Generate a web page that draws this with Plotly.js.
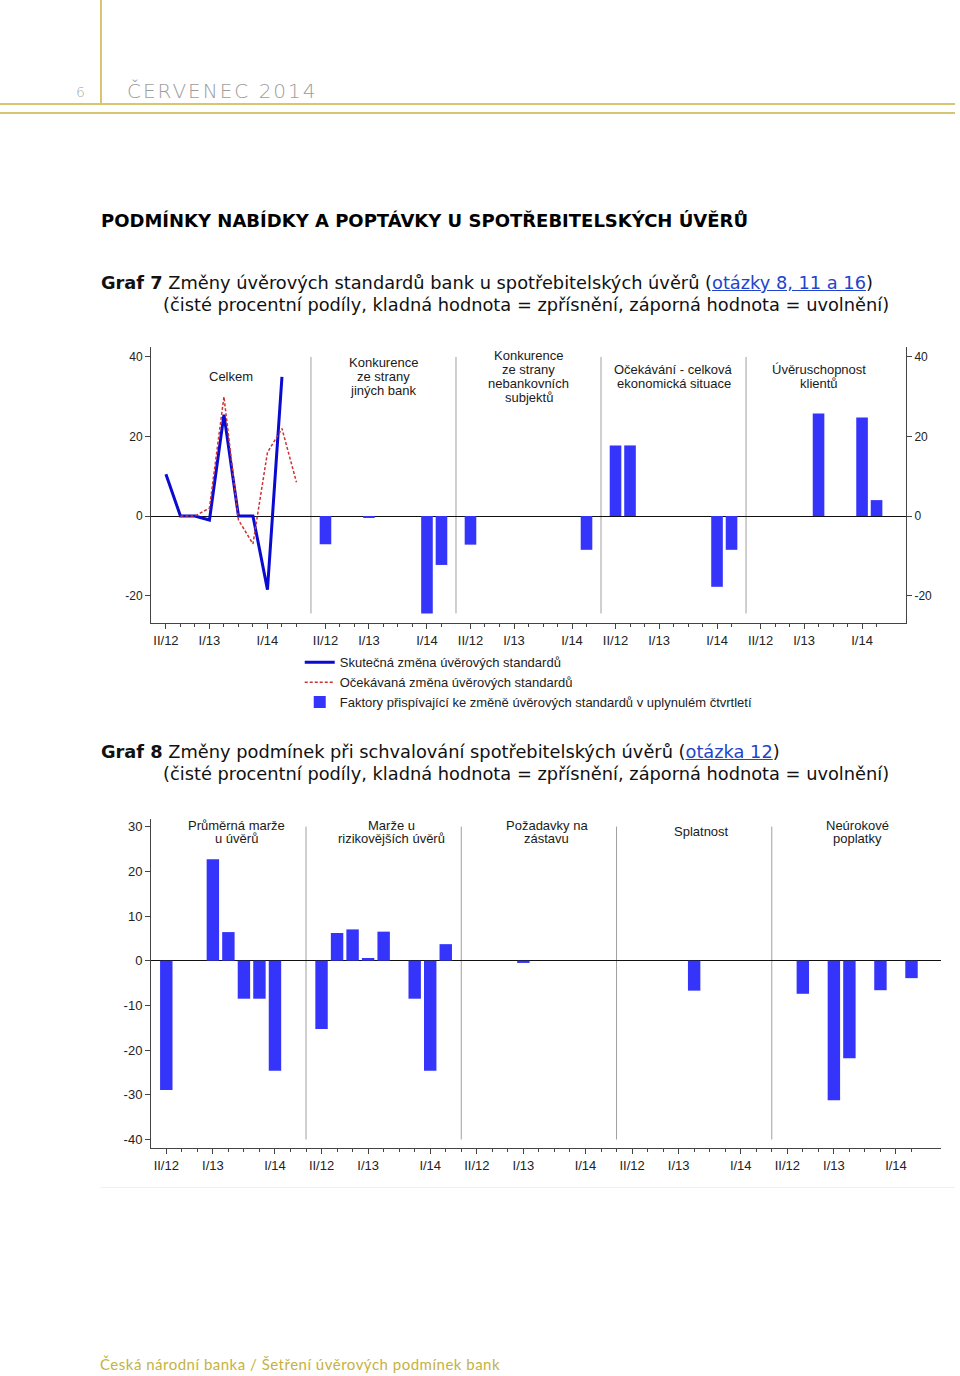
<!DOCTYPE html>
<html>
<head>
<meta charset="utf-8">
<script src="https://cdn.plot.ly/plotly-3.0.1.min.js"></script>
<style>
  html, body { margin:0; padding:0; background:#fff; }
  body { width:960px; height:1376px; position:relative; overflow:hidden; }
  .t { position:absolute; white-space:nowrap; }
  .body16 { font-family:"DejaVu Sans", Verdana, sans-serif; font-size:17.8px; line-height:22px; color:#111; }
  .lnk { color:#2244cc; text-decoration:underline; }
  .gold { position:absolute; background:#d8c572; }
  #g7 { position:absolute; left:0; top:330px; width:960px; height:390px; }
  #g8 { position:absolute; left:0; top:800px; width:960px; height:390px; }
</style>
</head>
<body>
<!-- page header -->
<div class="gold" style="left:100px; top:0; width:1.5px; height:104px;"></div>
<div class="gold" style="left:0; top:103px; width:955px; height:1.5px;"></div>
<div class="gold" style="left:0; top:112px; width:955px; height:1.5px;"></div>
<div class="t" style="left:76px; top:84px; font-family:'DejaVu Sans',sans-serif; font-weight:200; font-size:14px; line-height:17px; color:#aaa;">6</div>
<div class="t" style="left:127px; top:79px; font-family:'DejaVu Sans',sans-serif; font-weight:200; font-size:20px; line-height:24px; letter-spacing:2px; color:#9d9d9d;">ČERVENEC 2014</div>

<div class="t" style="left:101px; top:210px; font-family:'DejaVu Sans',Verdana,sans-serif; font-weight:bold; font-size:18px; line-height:22px; color:#000;">PODMÍNKY NABÍDKY A POPTÁVKY U SPOTŘEBITELSKÝCH ÚVĚRŮ</div>

<div class="t body16" style="left:101px; top:272px;"><b>Graf 7</b> Změny úvěrových standardů bank u spotřebitelských úvěrů (<span class="lnk">otázky 8, 11 a 16</span>)</div>
<div class="t body16" style="left:163px; top:294px;">(čisté procentní podíly, kladná hodnota = zpřísnění, záporná hodnota = uvolnění)</div>

<div id="g7"></div>

<div class="t body16" style="left:101px; top:741px;"><b>Graf 8</b> Změny podmínek při schvalování spotřebitelských úvěrů (<span class="lnk">otázka 12</span>)</div>
<div class="t body16" style="left:163px; top:763px;">(čisté procentní podíly, kladná hodnota = zpřísnění, záporná hodnota = uvolnění)</div>

<div id="g8"></div>
<div style="position:absolute; left:100px; top:1187px; width:855px; height:1px; background:#f0f0f0;"></div>

<div class="t" style="left:100px; top:1355px; font-family:Lato,'Noto Sans',sans-serif; font-size:15px; line-height:18px; letter-spacing:0.5px; color:#c5b23e;">Česká národní banka / Šetření úvěrových podmínek bank</div>

<script>
// ---------- DATA ----------
const quarters = ["II/12","III/12","IV/12","I/13","II/13","III/13","IV/13","I/14","II/14","III/14"];
const labelledQuarters = ["II/12","I/13","I/14"];

// Graf 7 – panel 1 (lines)
const g7Actual   = [10.5, 0, 0, -1, 25.5, 0, 0, -18.5, 35, null];
const g7Expected = [null, 0, 0, 2, 30, -1, -7, 16, 22, 8.5];
// Graf 7 – factor panels (II/12 .. II/14)
const g7KonkBanky     = [-7.1, null, null, -0.5, null, null, null, -24.5, -12.3];
const g7KonkNebank    = [-7.2, null, null, null, null, null, null, null, -8.5];
const g7Ocekavani     = [17.75, 17.75, null, null, null, null, null, -17.8, -8.5];
const g7Uverusch      = [null, null, null, null, 25.75, null, null, 24.75, 4];
const g7Titles = [["Celkem"], ["Konkurence","ze strany","jiných bank"],
  ["Konkurence","ze strany","nebankovních","subjektů"],
  ["Očekávání - celková","ekonomická situace"], ["Úvěruschopnost","klientů"]];
const g7Legend = ["Skutečná změna úvěrových standardů","Očekávaná změna úvěrových standardů",
  "Faktory přispívající ke změně úvěrových standardů v uplynulém čtvrtletí"];
const g7YTicks = [-20, 0, 20, 40];
const g7YLabels = ["-20", "0", "20", "40"];

// Graf 8 – panels (II/12 .. II/14)
const g8Marze      = [-28.9, null, null, 22.7, 6.4, -8.5, -8.5, -24.6, null];
const g8MarzeRiz   = [-15.3, 6.2, 7.0, 0.6, 6.5, null, -8.5, -24.6, 3.7];
const g8Zastava    = [null, null, null, -0.5, null, null, null, null, null];
const g8Splatnost  = [null, null, null, null, -6.7, null, null, null, null];
const g8Poplatky   = [null, -7.4, null, -31.2, -21.8, null, -6.6, null, -3.9];
const g8Titles = [["Průměrná marže","u úvěrů"], ["Marže u","rizikovějších úvěrů"],
  ["Požadavky na","zástavu"], ["Splatnost"], ["Neúrokové","poplatky"]];
const g8YTicks = [-40, -30, -20, -10, 0, 10, 20, 30];
const g8YLabels = ["-40", "-30", "-20", "-10", "0", "10", "20", "30"];

// ---------- LAYOUT CONSTANTS ----------
const FONT = "Liberation Sans, Arial, sans-serif";
const BAR = "#3434fb", LINEB = "#0a0ad0", LINER = "#cc3333", AX = "#444";
const g7Start = [0, 11, 21, 31, 41], g7Sep = [10, 20, 30, 40], g7TitleX = [4.5, 15, 25, 35, 45];
const g8Start = [0, 10, 20, 30, 40], g8Sep = [9, 19, 29, 39], g8TitleX = [4.5, 14.5, 24.5, 34.5, 44.5];

function barsFrom(panels, starts) {
  const x = [], y = [];
  panels.forEach((vals, p) => vals.forEach((v, i) => { if (v !== null) { x.push(starts[p] + i); y.push(v); } }));
  return {x, y};
}
function majorTicks(starts) {
  const v = [], t = [];
  starts.forEach(s => labelledQuarters.forEach(q => { v.push(s + quarters.indexOf(q)); t.push(q); }));
  return {v, t};
}
function titleAnn(titles, xs, yv, lh) {
  const a = [];
  titles.forEach((lines, p) => lines.forEach((txt, j) => a.push({
    x: xs[p], y: yv, xref: 'x', yref: 'y', text: txt, showarrow: false,
    xanchor: 'center', yanchor: 'middle', yshift: ((lines.length - 1) / 2 - j) * lh,
    font: {family: FONT, size: 13, color: '#1a1a1a'}
  })));
  return a;
}
function sepShapes(seps, y0, y1) {
  return seps.map(s => ({type: 'line', xref: 'x', yref: 'y', x0: s, x1: s, y0: y0, y1: y1,
    line: {color: '#a0a0a0', width: 1}, layer: 'below'}));
}

// ---------- GRAF 7 ----------
const g7x = quarters.map((q, i) => g7Start[0] + i);
const g7bars = barsFrom([g7KonkBanky, g7KonkNebank, g7Ocekavani, g7Uverusch], g7Start.slice(1));
const g7maj = majorTicks(g7Start);
const g7minor = [];
g7Start.forEach((s, p) => { const n = p === 0 ? 10 : 9; for (let i = 0; i < n; i++) g7minor.push(s + i); });

const yr7 = [-26.9, 42.5];
const yax7 = {range: yr7, tickmode: 'array', tickvals: g7YTicks, ticktext: g7YLabels, ticks: 'outside', ticklen: 5,
  tickcolor: AX, showline: true, linecolor: AX, linewidth: 1, showgrid: false,
  tickfont: {family: FONT, size: 12, color: '#222'}, fixedrange: true};

const traces7 = [
  {x: g7x, y: g7Actual, type: 'scatter', mode: 'lines', name: g7Legend[0],
   line: {color: LINEB, width: 3}, xaxis: 'x', yaxis: 'y', hoverinfo: 'skip'},
  {x: g7x, y: g7Expected, type: 'scatter', mode: 'lines', name: g7Legend[1],
   line: {color: LINER, width: 1.5, dash: '3px,2px'}, xaxis: 'x', yaxis: 'y', hoverinfo: 'skip'},
  {x: g7bars.x, y: g7bars.y, type: 'bar', name: g7Legend[2], width: 0.8,
   marker: {color: BAR, line: {width: 0}}, xaxis: 'x', yaxis: 'y2', hoverinfo: 'skip'}
];
const layout7 = {
  width: 960, height: 390, margin: {l: 151, r: 54, t: 17, b: 97, autoexpand: false},
  paper_bgcolor: 'rgba(0,0,0,0)', plot_bgcolor: 'rgba(0,0,0,0)',
  font: {family: FONT, size: 13, color: '#222'},
  showlegend: true,
  legend: {x: 0.197, y: -0.088, xanchor: 'left', yanchor: 'top', bgcolor: 'rgba(0,0,0,0)',
    font: {family: FONT, size: 13, color: '#222'}, tracegroupgap: 0},
  xaxis: {range: [-1.03, 51.03], tickmode: 'array', tickvals: g7maj.v, ticktext: g7maj.t,
    ticks: 'outside', ticklen: 5, tickcolor: AX, showline: true, linecolor: AX, linewidth: 1,
    showgrid: false, zeroline: false, fixedrange: true,
    tickfont: {family: FONT, size: 13, color: '#222'},
    minor: {tickmode: 'array', tickvals: g7minor, ticks: 'outside', ticklen: 3, tickcolor: AX, showgrid: false}},
  yaxis: Object.assign({}, yax7, {zeroline: true, zerolinecolor: '#111', zerolinewidth: 1}),
  yaxis2: Object.assign({}, yax7, {overlaying: 'y', side: 'right', zeroline: false}),
  shapes: sepShapes(g7Sep, -24.5, 40),
  annotations: titleAnn(g7Titles, g7TitleX, 35, 14)
};
Plotly.newPlot('g7', traces7, layout7, {staticPlot: true, displayModeBar: false});

// ---------- GRAF 8 ----------
const g8bars = barsFrom([g8Marze, g8MarzeRiz, g8Zastava, g8Splatnost, g8Poplatky], g8Start);
const g8maj = majorTicks(g8Start);
const g8minor = [];
for (let i = 0; i <= 48; i++) g8minor.push(i);

const traces8 = [
  {x: g8bars.x, y: g8bars.y, type: 'bar', width: 0.8, marker: {color: BAR, line: {width: 0}},
   hoverinfo: 'skip', showlegend: false}
];
const layout8 = {
  width: 960, height: 390, margin: {l: 151, r: 19, t: 19, b: 42, autoexpand: false},
  paper_bgcolor: 'rgba(0,0,0,0)', plot_bgcolor: 'rgba(0,0,0,0)',
  font: {family: FONT, size: 13, color: '#222'},
  showlegend: false,
  xaxis: {range: [-0.985, 49.9], tickmode: 'array', tickvals: g8maj.v, ticktext: g8maj.t,
    ticks: 'outside', ticklen: 5, tickcolor: AX, showline: true, linecolor: AX, linewidth: 1,
    showgrid: false, zeroline: false, fixedrange: true,
    tickfont: {family: FONT, size: 13, color: '#222'},
    minor: {tickmode: 'array', tickvals: g8minor, ticks: 'outside', ticklen: 3, tickcolor: AX, showgrid: false}},
  yaxis: {range: [-41.9, 31.7], tickmode: 'array', tickvals: g8YTicks, ticktext: g8YLabels,
    ticks: 'outside', ticklen: 5, tickcolor: AX, showline: true, linecolor: AX, linewidth: 1,
    showgrid: false, zeroline: true, zerolinecolor: '#111', zerolinewidth: 1, fixedrange: true,
    tickfont: {family: FONT, size: 13, color: '#222'}},
  shapes: sepShapes(g8Sep, -40, 30),
  annotations: titleAnn(g8Titles, g8TitleX, 28.8, 13)
};
Plotly.newPlot('g8', traces8, layout8, {staticPlot: true, displayModeBar: false});
</script>
</body>
</html>
